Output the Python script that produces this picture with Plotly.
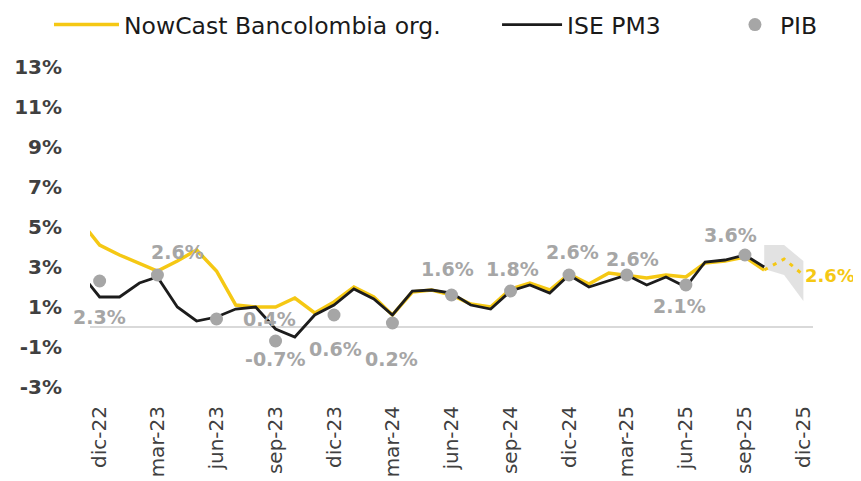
"""
NowCast Bancolombia vs ISE and PIB growth (% yoy), monthly dic-22 .. dic-25.
"""
import pandas as pd
import plotly.graph_objects as go

# ---- data ------------------------------------------------------------------
ISE_PM3 = [2.7, 1.5, 1.5, 2.2, 2.5, 1.0, 0.3, 0.5, 0.9, 1.0, -0.1, -0.5,
           0.6, 1.1, 1.9, 1.4, 0.6, 1.8, 1.85, 1.7, 1.1, 0.9, 1.8, 2.1,
           1.7, 2.6, 2.0, 2.3, 2.6, 2.1, 2.5, 2.0, 3.25, 3.35, 3.6, 3.0]
NOWCAST = [5.3, 4.1, 3.6, 3.2, 2.8, 3.3, 3.85, 2.8, 1.1, 1.0, 1.0, 1.45,
           0.7, 1.25, 2.0, 1.5, 0.6, 1.75, 1.85, 1.6, 1.15, 1.0, 1.9, 2.2,
           1.85, 2.65, 2.15, 2.7, 2.6, 2.45, 2.6, 2.5, 3.2, 3.3, 3.5, 2.85]
MONTHS = pd.date_range("2022-11-01", periods=len(ISE_PM3), freq="MS")

FCST_DATES = ["2025-10-01", "2025-11-01", "2025-12-01"]
FCST = [2.85, 3.4, 2.6]
FCST_HI = [4.1, 4.1, 3.3]
FCST_LO = [2.9, 2.6, 1.3]

PIB_DATES = ["2022-12-01", "2023-03-01", "2023-06-01", "2023-09-01",
             "2023-12-01", "2024-03-01", "2024-06-01", "2024-09-01",
             "2024-12-01", "2025-03-01", "2025-06-01", "2025-09-01"]
PIB = [2.3, 2.6, 0.4, -0.7, 0.6, 0.2, 1.6, 1.8, 2.6, 2.6, 2.1, 3.6]

TICK_DATES = PIB_DATES + ["2025-12-01"]
TICK_TEXT = ["dic-22", "mar-23", "jun-23", "sep-23", "dic-23", "mar-24", "jun-24",
             "sep-24", "dic-24", "mar-25", "jun-25", "sep-25", "dic-25"]
Y_TICKS = [-3, -1, 1, 3, 5, 7, 9, 11, 13]

# label nudges in px (dx, dy), hand placed like the original
PIB_LABEL_SHIFT = [(0, -36), (20, 23), (53, 0), (0, -18), (1, -34), (-1, -36),
                   (-4, 26), (2, 22), (3, 23), (6, 16), (-6, -21), (-14, 20)]

YELLOW = "#F5C814"
BLACK = "#1c1c1c"
GREY = "#a6a6a6"
FONT = "DejaVu Sans"

fig = go.Figure()

# forecast fan + dotted path
fig.add_trace(go.Scatter(
    x=FCST_DATES + FCST_DATES[::-1], y=FCST_HI + FCST_LO[::-1],
    fill="toself", fillcolor="rgba(190,190,190,0.45)", line=dict(width=0),
    mode="lines", showlegend=False, hoverinfo="skip",
))
fig.add_trace(go.Scatter(
    x=FCST_DATES, y=FCST, mode="lines", showlegend=False,
    line=dict(color=YELLOW, width=3, dash="4px,6px"),
))

fig.add_trace(go.Scatter(
    x=MONTHS, y=NOWCAST, mode="lines", name="NowCast Bancolombia org.",
    line=dict(color=YELLOW, width=3.5), legend="legend",
))
fig.add_trace(go.Scatter(
    x=MONTHS, y=ISE_PM3, mode="lines", name="ISE PM3",
    line=dict(color=BLACK, width=2.8), legend="legend2",
))
fig.add_trace(go.Scatter(
    x=PIB_DATES, y=PIB, mode="markers", name="PIB",
    marker=dict(color=GREY, size=13), legend="legend3",
))

for d, v, (dx, dy) in zip(PIB_DATES, PIB, PIB_LABEL_SHIFT):
    fig.add_annotation(
        x=d, y=v, text=f"{v:.1f}%", showarrow=False, xshift=dx, yshift=dy,
        font=dict(family=FONT, size=19, color=GREY, weight="bold"),
    )
fig.add_annotation(
    x=FCST_DATES[-1], y=FCST[-1], text=f"{FCST[-1]:.1f}%", showarrow=False,
    xanchor="left", xshift=0,
    font=dict(family=FONT, size=18, color=YELLOW, weight="bold"),
)

legend_base = dict(
    orientation="h", xref="container", yref="container",
    yanchor="middle", y=0.965, xanchor="left",
    font=dict(family=FONT, size=23.5, color="#1a1a1a"),
    bgcolor="rgba(0,0,0,0)", borderwidth=0,
)

fig.update_layout(
    width=861,
    height=481,
    # page body adds an 8px offset, margins account for it
    margin=dict(l=82, r=56, t=59, b=102, autoexpand=False),
    paper_bgcolor="white",
    plot_bgcolor="white",
    legend=dict(**legend_base, x=0.0476, itemwidth=65),
    legend2=dict(**legend_base, x=0.568, itemwidth=60),
    legend3=dict(**legend_base, x=0.8385, itemwidth=40),
    xaxis=dict(
        type="date",
        range=["2022-11-16", "2025-12-16"],
        tickvals=TICK_DATES,
        ticktext=TICK_TEXT,
        tickangle=-90,
        ticks="",
        showgrid=False,
        showline=False,
        zeroline=False,
        ticklabelstandoff=14,
        tickfont=dict(family=FONT, size=20, color="#404040"),
    ),
    yaxis=dict(
        range=[-3, 13],
        tickvals=Y_TICKS,
        ticktext=[f"{t}%" for t in Y_TICKS],
        ticks="",
        showgrid=False,
        showline=False,
        zeroline=True,
        zerolinecolor="#d9d9d9",
        zerolinewidth=1.5,
        ticklabelstandoff=27,
        tickfont=dict(family=FONT, size=20, color="#404040", weight="bold"),
    ),
    hovermode=False,
)

fig.write_html("out.html")
